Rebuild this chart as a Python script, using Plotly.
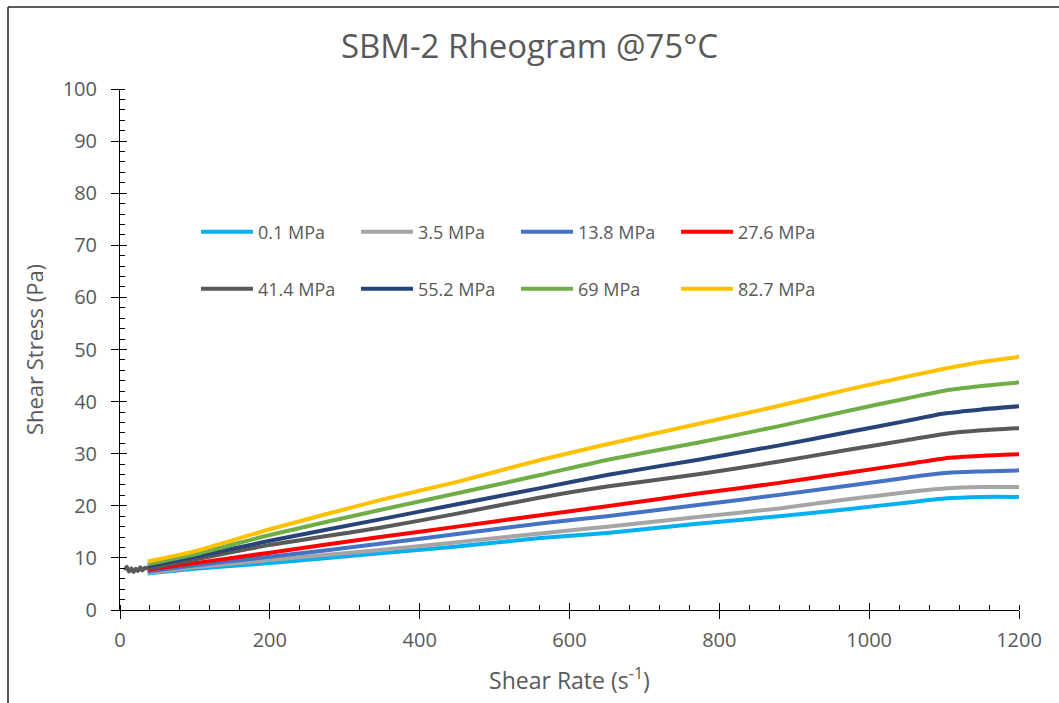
import plotly.graph_objects as go

# ---- data ----
shear_rate = [37, 100, 200, 347, 450, 561, 650, 774, 880, 974, 1050, 1100, 1150, 1200]

stress_0_1 = [7.0, 7.9, 9.0, 10.9, 12.2, 13.8, 14.8, 16.6, 18.0, 19.4, 20.6, 21.4, 21.7, 21.7]
stress_3_5 = [7.1, 8.2, 9.6, 11.5, 13.0, 14.7, 16.0, 17.9, 19.5, 21.3, 22.6, 23.3, 23.6, 23.6]
stress_13_8 = [7.4, 8.6, 10.2, 12.7, 14.6, 16.6, 18.0, 20.2, 22.1, 23.9, 25.4, 26.3, 26.6, 26.8]
stress_27_6 = [7.7, 9.0, 11.0, 14.0, 16.0, 18.2, 19.9, 22.4, 24.4, 26.4, 28.0, 29.1, 29.6, 29.9]
stress_55_2 = [8.4, 10.2, 13.3, 17.4, 20.3, 23.4, 25.9, 28.9, 31.6, 34.2, 36.3, 37.7, 38.5, 39.1]
stress_69 = [8.8, 10.7, 14.4, 19.2, 22.4, 25.9, 28.8, 32.2, 35.3, 38.3, 40.6, 42.1, 43.0, 43.7]
stress_82_7 = [9.3, 11.3, 15.5, 21.1, 24.6, 28.8, 31.8, 35.8, 39.2, 42.4, 44.8, 46.3, 47.6, 48.6]

# 41.4 MPa series starts earlier with a noisy low-rate segment
shear_rate_41_4 = [7, 9, 12, 15, 18, 21, 24, 27, 30, 33, 37, 100, 200, 347, 450, 561, 650, 774, 880, 974, 1050, 1100, 1150, 1200]
stress_41_4 = [7.6, 8.3, 7.4, 8.0, 7.3, 7.9, 7.5, 8.2, 7.6, 8.1, 8.0, 9.7, 12.5, 15.8, 18.5, 21.6, 23.7, 26.1, 28.5, 30.8, 32.6, 33.8, 34.5, 34.9]

series_names = ["0.1 MPa", "3.5 MPa", "13.8 MPa", "27.6 MPa",
                "41.4 MPa", "55.2 MPa", "69 MPa", "82.7 MPa"]
series_colors = ["#00B0F0", "#A5A5A5", "#4472C4", "#FF0000",
                 "#595959", "#264478", "#70AD47", "#FFC000"]

x_ticks = [0, 200, 400, 600, 800, 1000, 1200]
y_ticks = list(range(0, 101, 10))

series_x = [shear_rate, shear_rate, shear_rate, shear_rate,
            shear_rate_41_4, shear_rate, shear_rate, shear_rate]
series_y = [stress_0_1, stress_3_5, stress_13_8, stress_27_6,
            stress_41_4, stress_55_2, stress_69, stress_82_7]

TXT = "#595959"
FONT = "Open Sans"

fig = go.Figure()
for i, (name, col, xs, ys) in enumerate(zip(series_names, series_colors, series_x, series_y)):
    fig.add_trace(go.Scatter(
        x=xs, y=ys, mode="lines", name=name,
        line=dict(color=col, width=4, shape="spline", smoothing=0.6),
        legend="legend" if i < 4 else "legend2",
        hoverinfo="skip",
    ))

# helper trace for the overlay axes (crossing major ticks)
fig.add_trace(go.Scatter(x=[None], y=[None], xaxis="x2", yaxis="y2",
                         showlegend=False, hoverinfo="skip"))

axis_common = dict(showgrid=False, zeroline=False, showline=True,
                   linecolor="black", linewidth=1,
                   tickcolor="black", tickwidth=1,
                   tickfont=dict(family=FONT, size=20, color=TXT))

legend_common = dict(orientation="h", xanchor="left", yanchor="middle",
                     entrywidth=93, entrywidthmode="pixels", itemwidth=52,
                     font=dict(family=FONT, size=18, color=TXT),
                     bgcolor="rgba(0,0,0,0)", traceorder="normal")

fig.update_layout(
    width=1059, height=703,
    margin=dict(l=120, r=40, t=89, b=93),
    paper_bgcolor="white", plot_bgcolor="white",
    title=dict(text="SBM-2 Rheogram @75°C", x=0.5, xanchor="center",
               y=1 - 46 / 703, yanchor="middle",
               font=dict(family=FONT, size=33, color=TXT)),
    xaxis=dict(range=[0, 1200], tickvals=x_ticks, ticks="outside", ticklen=8,
               minor=dict(dtick=40, ticks="inside", ticklen=5, tickcolor="black"),
               title=dict(text="Shear Rate (s<sup>-1</sup>)", standoff=20,
                          font=dict(family=FONT, size=23, color=TXT)),
               ticklabelstandoff=4,
               **axis_common),
    yaxis=dict(range=[0, 100], tickvals=y_ticks, ticks="outside", ticklen=8,
               minor=dict(dtick=2, ticks="inside", ticklen=5, tickcolor="black"),
               title=dict(text="Shear Stress (Pa)", standoff=12,
                          font=dict(family=FONT, size=22, color=TXT)),
               ticklabelstandoff=10,
               **axis_common),
    xaxis2=dict(range=[0, 1200], overlaying="x", anchor="y", tickvals=x_ticks,
                ticks="inside", ticklen=7, tickcolor="black", showticklabels=False,
                showgrid=False, zeroline=False, showline=False, side="bottom"),
    yaxis2=dict(range=[0, 100], overlaying="y", anchor="x", tickvals=y_ticks,
                ticks="inside", ticklen=7, tickcolor="black", showticklabels=False,
                showgrid=False, zeroline=False, showline=False, side="left"),
    legend=dict(x=(196 - 120) / 899, y=(610 - 232) / 521, **legend_common),
    legend2=dict(x=(196 - 120) / 899, y=(610 - 289) / 521, **legend_common),
    shapes=[
        dict(type="line", xref="paper", yref="paper",
             x0=(8 - 120) / 899, x1=(8 - 120) / 899,
             y0=(610 - 703) / 521 - 0.01, y1=(610 - 7) / 521,
             line=dict(color="#262626", width=1.5)),
        dict(type="line", xref="paper", yref="paper",
             x0=(8 - 120) / 899, x1=(1059 - 120) / 899 + 0.01,
             y0=(610 - 7) / 521, y1=(610 - 7) / 521,
             line=dict(color="#262626", width=1.5)),
    ],
)

fig.write_html("out.html")
